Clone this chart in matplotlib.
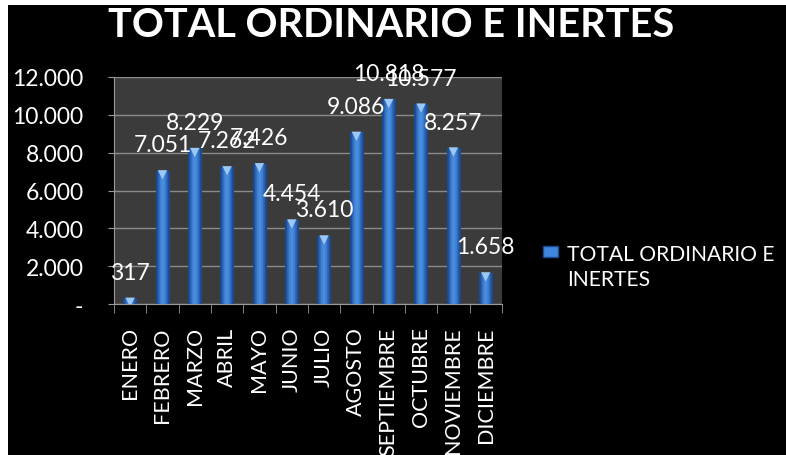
import numpy as np
import matplotlib
matplotlib.use("Agg")
import matplotlib.pyplot as plt
from matplotlib.patches import Rectangle
from matplotlib.ticker import FuncFormatter, MultipleLocator
from matplotlib.transforms import ScaledTranslation

months = ["ENERO", "FEBRERO", "MARZO", "ABRIL", "MAYO", "JUNIO", "JULIO",
          "AGOSTO", "SEPTIEMBRE", "OCTUBRE", "NOVIEMBRE", "DICIEMBRE"]
totals = [317, 7051, 8229, 7262, 7426, 4454, 3610, 9086, 10818, 10577, 8257, 1658]
series_name = "TOTAL ORDINARIO E\nINERTES"
title = "TOTAL ORDINARIO E INERTES"

# Lato is the closest installed match to the Calibri of the original
plt.rcParams["font.family"] = ["Lato", "DejaVu Sans"]


def thousands(v, _pos=None):
    if v == 0:
        return "-"
    return f"{v:,.0f}".replace(",", ".")


fig = plt.figure(figsize=(7.86, 4.56), dpi=100, facecolor="black")
ax = fig.add_axes([0.145, 0.331, 0.4935, 0.498])
ax.set_facecolor("#3b3b3b")

x = np.arange(len(months))
bw = 0.42
bars = ax.bar(x, totals, width=bw, color="#2f6cc0", zorder=3)

# horizontal shading to mimic the cylinder look of the original
grad = np.array([[0.0, 0.45, 0.85, 1.0, 0.8, 0.4, 0.0]])
cmap = matplotlib.colors.LinearSegmentedColormap.from_list(
    "cyl", ["#1b4a93", "#4a8fe4"])
for b in bars:
    im = ax.imshow(grad, cmap=cmap, aspect="auto", zorder=3.5,
                   extent=[b.get_x(), b.get_x() + b.get_width(), 0, b.get_height()])
    im.set_clip_path(b)
cap_shift = ax.transData + ScaledTranslation(0, -3 / 72, fig.dpi_scale_trans)
ax.scatter(x, totals, marker="v", s=45, color="#9cc8f6", edgecolors="none",
           zorder=4, transform=cap_shift)

for xi, v in zip(x, totals):
    ax.annotate(thousands(v), (xi, v), xytext=(0, 11), textcoords="offset points",
                ha="center", va="bottom", color="white", fontsize=16.5, zorder=5,
                annotation_clip=False)

ax.set_xlim(-0.5, len(months) - 0.5)
ax.set_ylim(0, 12000)
ax.yaxis.set_major_locator(MultipleLocator(2000))
ax.yaxis.set_major_formatter(FuncFormatter(thousands))
ax.grid(axis="y", color="#8a8a8a", lw=1, zorder=1)

ax.set_xticks(x)
ax.set_xticklabels(months, rotation=90, color="white", fontsize=15.5)
ax.set_xticks(np.arange(len(months) + 1) - 0.5, minor=True)
ax.tick_params(axis="x", which="major", length=0, pad=16)
ax.tick_params(axis="x", which="minor", length=6.5, color="#9a9a9a", direction="out")
ax.tick_params(axis="y", length=4, color="#9a9a9a", labelcolor="white",
               labelsize=16.5, pad=18)
for side in ("top", "right"):
    ax.spines[side].set_visible(False)
for side in ("left", "bottom"):
    ax.spines[side].set_color("#9a9a9a")

leg_handle = Rectangle((0, 0), 1, 1, facecolor="#3f86de", edgecolor="#1b4a93")
fig.legend([leg_handle], [""], loc="center left", bbox_to_anchor=(0.691, 0.445),
           frameon=False, handlelength=1.05, handleheight=0.85, borderpad=0,
           borderaxespad=0)
fig.text(0.721, 0.413, series_name, color="white", fontsize=15.2,
         ha="left", va="center", linespacing=1.35)

fig.text(0.497, 0.943, title, color="white", fontsize=28.5, fontweight="bold",
         ha="center", va="center")

# white margin on the top and left of the original screenshot
fig.patches.append(Rectangle((0, 1 - 6 / 456), 1, 6 / 456, transform=fig.transFigure,
                             facecolor="white", edgecolor="none", zorder=10))
fig.patches.append(Rectangle((0, 0), 8 / 786, 1, transform=fig.transFigure,
                             facecolor="white", edgecolor="none", zorder=10))

fig.savefig("out.png", dpi=100, facecolor="black")
